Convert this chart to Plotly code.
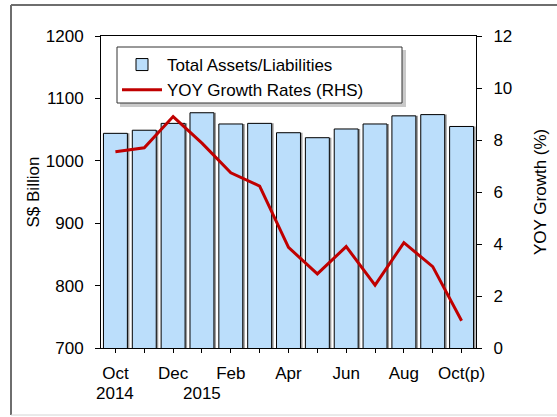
import plotly.graph_objects as go

months = ["Oct 2014", "Nov", "Dec", "Jan 2015", "Feb", "Mar", "Apr", "May", "Jun", "Jul", "Aug", "Sep", "Oct(p)"]
tick_labels = ["Oct", "", "Dec", "", "Feb", "", "Apr", "", "Jun", "", "Aug", "", "Oct(p)"]
total_assets = [1044, 1049, 1060, 1077, 1059, 1060, 1045, 1037, 1051, 1059, 1072, 1074, 1055]
yoy_growth = [7.55, 7.70, 8.90, 7.88, 6.74, 6.23, 3.87, 2.85, 3.90, 2.42, 4.05, 3.13, 1.05]
year_labels = {0: "2014", 3: "2015"}

FONT = "Arial, Liberation Sans, sans-serif"
x = list(range(len(months)))
bw = 0.83

fig = go.Figure()
# bar shadow
fig.add_trace(go.Bar(x=x, y=total_assets, width=bw, offset=-bw / 2 + 0.07,
                     marker=dict(color="#9a9a9a", line=dict(width=0)),
                     showlegend=False, hoverinfo="skip", yaxis="y"))
fig.add_trace(go.Bar(x=x, y=total_assets, width=bw, offset=-bw / 2,
                     name="Total Assets/Liabilities",
                     marker=dict(color="#BBDEFB", line=dict(color="black", width=1)),
                     yaxis="y"))
fig.add_trace(go.Scatter(x=x, y=yoy_growth, mode="lines", name="YOY Growth Rates (RHS)",
                         line=dict(color="#C00000", width=3), yaxis="y2"))

W, H = 557, 417
L, R, T, B = 101, 81, 36, 69
pw, ph = W - L - R, H - T - B

def px2x(p):
    return (p - L) / pw

def px2y(p):
    return (H - B - p) / ph

annotations = []
for i, t in year_labels.items():
    annotations.append(dict(x=i, y=px2y(393), xref="x", yref="paper", text=t, showarrow=False,
                            font=dict(size=17, color="black", family=FONT), xanchor="center", yanchor="middle"))
annotations.append(dict(x=px2x(32.5), y=0.5, xref="paper", yref="paper", text="S$ Billion", textangle=-90,
                        showarrow=False, font=dict(size=17, color="black", family=FONT),
                        xanchor="center", yanchor="middle"))
annotations.append(dict(x=px2x(540), y=0.5, xref="paper", yref="paper", text="YOY Growth (%)", textangle=-90,
                        showarrow=False, font=dict(size=17, color="black", family=FONT),
                        xanchor="center", yanchor="middle"))

shapes = [
    # outer frame
    dict(type="line", xref="paper", yref="paper", x0=px2x(11), x1=px2x(600), y0=px2y(5), y1=px2y(5),
         line=dict(color="#6e6e6e", width=2)),
    dict(type="line", xref="paper", yref="paper", x0=px2x(11), x1=px2x(11), y0=px2y(5), y1=px2y(415),
         line=dict(color="#6e6e6e", width=2)),
    dict(type="line", xref="paper", yref="paper", x0=px2x(11), x1=px2x(600), y0=px2y(415), y1=px2y(415),
         line=dict(color="#d4d4d4", width=1)),
    # legend shadow and box
    dict(type="rect", xref="paper", yref="paper", x0=px2x(120), x1=px2x(406), y0=px2y(107), y1=px2y(50),
         line=dict(width=0), fillcolor="rgba(120,120,120,0.40)", layer="above"),
    dict(type="rect", xref="paper", yref="paper", x0=px2x(117), x1=px2x(402), y0=px2y(103), y1=px2y(47),
         line=dict(color="#333333", width=1), fillcolor="white", layer="above"),
]

fig.update_layout(
    width=W, height=H,
    margin=dict(l=L, r=R, t=T, b=B, pad=0),
    paper_bgcolor="white", plot_bgcolor="white",
    font=dict(family=FONT, size=17, color="black"),
    barmode="overlay",
    showlegend=True,
    legend=dict(x=px2x(117), y=px2y(47), xanchor="left", yanchor="top",
                bgcolor="rgba(0,0,0,0)", borderwidth=0,
                font=dict(size=17, family=FONT, color="black"),
                itemwidth=40, tracegroupgap=0),
    xaxis=dict(range=[-0.5, len(months) - 0.5], tickvals=x, ticktext=tick_labels,
               ticks="outside", ticklen=4, tickcolor="black", showline=True, linecolor="black",
               linewidth=1, mirror=True, showgrid=False, zeroline=False, ticklabelstandoff=6),
    yaxis=dict(range=[700, 1200], dtick=100, tick0=700, ticks="outside", ticklen=5, tickcolor="black",
               showline=True, linecolor="black", linewidth=1, showgrid=False, zeroline=False,
               ticklabelstandoff=8),
    yaxis2=dict(range=[0, 12], dtick=2, tick0=0, overlaying="y", side="right", ticks="outside", ticklen=5,
                tickcolor="black", showline=True, linecolor="black", linewidth=1, showgrid=False,
                zeroline=False, ticklabelstandoff=8),
    annotations=annotations,
    shapes=shapes,
)

fig.write_html("out.html", config={"displayModeBar": False},
               post_script="document.body.style.margin='0px';document.body.style.overflow='hidden';")
